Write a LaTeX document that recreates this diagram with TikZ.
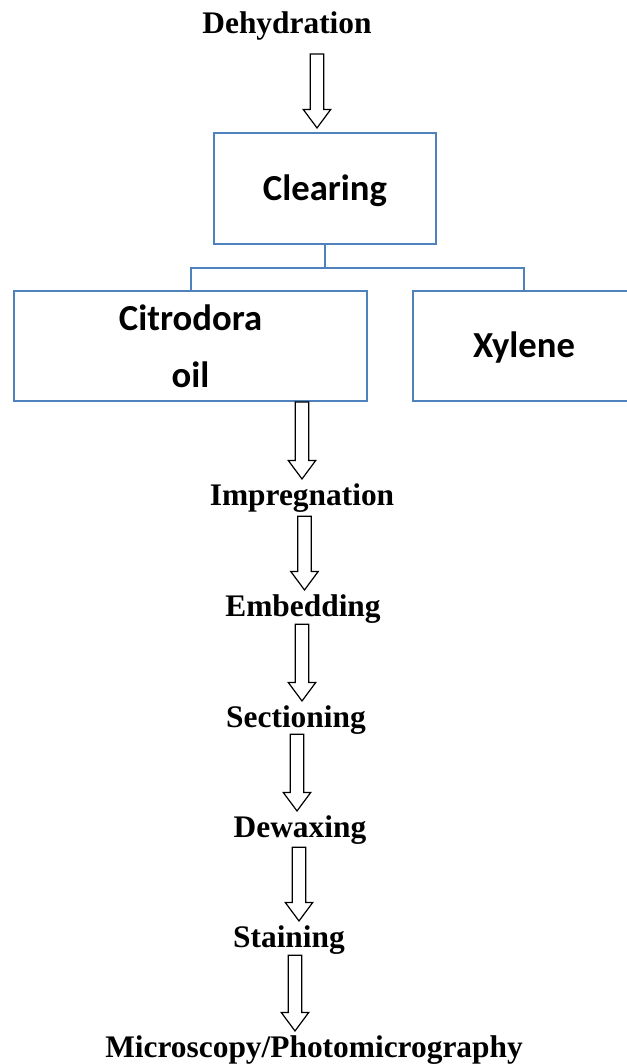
\documentclass[tikz,border=0pt]{standalone}
\usepackage{fontspec}
\usepackage{tikz}
\usetikzlibrary{calc}
\setmainfont{Liberation Serif}
\newfontfamily\calibri{Carlito}

\definecolor{boxblue}{RGB}{79,129,189}

\tikzset{
  steptext/.style={font=\bfseries\fontsize{23.55}{28}\selectfont, inner sep=0pt, anchor=base},
  stepbox/.style={draw=boxblue, line width=1.6pt, rectangle, inner sep=0pt, align=center,
    font=\calibri\bfseries\fontsize{27.5}{42.75}\selectfont},
  treeline/.style={draw=boxblue, line width=1.5pt},
  blockarrow/.style={draw=black, fill=white, line width=0.9pt, line join=miter}
}

% hollow block arrow: upper anchor, lower anchor, x shift, gap below upper anchor
\newcommand{\flowarrow}[4]{%
  \coordinate (fa-top) at ($(#1)+(#3,#4)$);
  \coordinate (fa-tip) at ($(fa-top |- #2)+(0,-4)$);
  \draw[blockarrow] ($(fa-top)+(-6.75,0)$) -- ($(fa-tip)+(-6.75,-18.5)$) -- ($(fa-tip)+(-13.75,-18.5)$)
    -- (fa-tip) -- ($(fa-tip)+(13.75,-18.5)$) -- ($(fa-tip)+(6.75,-18.5)$) -- ($(fa-top)+(6.75,0)$) -- cycle;
}

\begin{document}
\begin{tikzpicture}[x=0.75pt,y=0.75pt,yscale=-1,xscale=1]
\useasboundingbox (0,0) rectangle (626,1064);

% Text Node
\node[steptext] (dehyd) at (287,33) {Dehydration};

%Shape: Rectangle
\node[stepbox, minimum width=166.5pt, minimum height=83.25pt, text height=17.25pt, text depth=0pt] (clear) at (325,188.5) {Clearing};
%Shape: Rectangle
\node[stepbox, minimum width=264.75pt, minimum height=82.5pt] (citro) at (190.5,346) {Citrodora\\oil};
%Shape: Rectangle
\node[stepbox, minimum width=166.5pt, minimum height=82.5pt, text height=16.5pt, text depth=0pt] (xylene) at (524,346) {Xylene};

%Straight Lines
\coordinate (split) at ($(clear.south)+(0,23)$);
\draw[treeline] (clear.south) -- (split);
\draw[treeline] (citro.north) |- (split) -| (xylene.north);

% Text Node
\node[steptext] (impreg) at (302,505) {Impregnation};
% Text Node
\node[steptext] (embed) at (303,616) {Embedding};
% Text Node
\node[steptext] (section) at (296,727) {Sectioning};
% Text Node
\node[steptext] (dewax) at (300,837) {Dewaxing};
% Text Node
\node[steptext] (stain) at (289,947) {Staining};
% Text Node
\node[steptext] (micro) at (314,1057) {Microscopy/Photomicrography};

%Shape: Down Arrows
\flowarrow{dehyd.south}{clear.north}{30}{14}
\flowarrow{citro.south}{impreg.north}{111.5}{0}
\flowarrow{impreg.south}{embed.north}{2.5}{4}
\flowarrow{embed.south}{section.north}{-1}{1}
\flowarrow{section.south}{dewax.north}{1}{0}
\flowarrow{dewax.south}{stain.north}{-1}{3}
\flowarrow{stain.south}{micro.north}{6}{1}

\end{tikzpicture}
\end{document}
